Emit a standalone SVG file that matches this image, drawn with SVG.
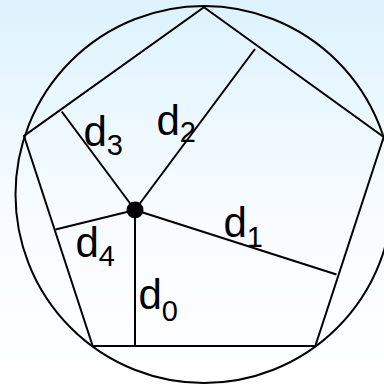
<svg xmlns="http://www.w3.org/2000/svg" width="384" height="384" viewBox="0 0 384 384">
<defs>
<linearGradient id="bg" x1="0" y1="0" x2="0" y2="1">
<stop offset="0" stop-color="#ddf2fd"/>
<stop offset="0.5" stop-color="#f6fbff"/>
<stop offset="1" stop-color="#ffffff"/>
</linearGradient>
</defs>
<style>
.ln{stroke:#000;stroke-width:2;fill:none;stroke-linejoin:miter}
.lbl{font-family:"Liberation Sans",Arial,sans-serif;font-size:42px;fill:#000}
.sub{font-size:29px}
</style>
<rect width="384" height="384" fill="url(#bg)"/>
<g id="circle">
<circle class="ln" cx="204" cy="194.5" r="188.5"/>
</g>
<g id="pentagon">
<polygon class="ln" points="204,7.3 383.7,137 315.3,346 92.7,346 24,136"/>
</g>
<g id="connectors">
<line class="ln" x1="135" y1="210" x2="135" y2="346"/>
<line class="ln" x1="135" y1="210" x2="336.5" y2="274.5"/>
<line class="ln" x1="135" y1="210" x2="255" y2="49"/>
<line class="ln" x1="135" y1="210" x2="61.7" y2="111.5"/>
<line class="ln" x1="135" y1="210" x2="55.5" y2="229.5"/>
</g>
<g id="point">
<circle cx="135" cy="210" r="8.5" fill="#000"/>
</g>
<g id="labels">
<text class="lbl" x="138.5" y="309">d<tspan class="sub" dy="12">0</tspan></text>
<text class="lbl" x="223.5" y="237">d<tspan class="sub" dy="10">1</tspan></text>
<text class="lbl" x="156.5" y="135">d<tspan class="sub" dy="7">2</tspan></text>
<text class="lbl" x="83.5" y="146">d<tspan class="sub" dy="9">3</tspan></text>
<text class="lbl" x="75.5" y="257">d<tspan class="sub" dy="9">4</tspan></text>
</g>
</svg>
